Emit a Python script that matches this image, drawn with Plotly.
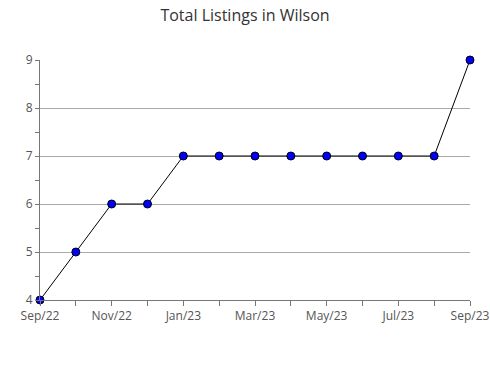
import plotly.graph_objects as go

months = ["Sep/22", "Oct/22", "Nov/22", "Dec/22", "Jan/23", "Feb/23", "Mar/23",
          "Apr/23", "May/23", "Jun/23", "Jul/23", "Aug/23", "Sep/23"]
listings = [4, 5, 6, 6, 7, 7, 7, 7, 7, 7, 7, 7, 9]
tick_labels = [m if i % 2 == 0 else "" for i, m in enumerate(months)]

fig = go.Figure()
fig.add_trace(go.Scatter(
    x=list(range(len(months))), y=listings, mode="lines+markers",
    line=dict(color="black", width=1),
    marker=dict(symbol="circle", size=8, color="#0000ff", line=dict(color="black", width=1)),
    cliponaxis=False, hoverinfo="skip",
))
fig.update_layout(
    width=490, height=380,
    margin=dict(l=40, r=20, t=60, b=80),
    paper_bgcolor="white", plot_bgcolor="white",
    font=dict(family="Open Sans", size=12, color="#555555"),
    title=dict(text="Total Listings in Wilson", x=0.5, xanchor="center", y=0.975, yanchor="top",
               font=dict(size=16, color="#333333")),
    showlegend=False,
    xaxis=dict(
        range=[0, len(months) - 1], tickmode="array", automargin=False,
        tickvals=list(range(len(months))), ticktext=tick_labels,
        showgrid=False, zeroline=False, showline=True, linecolor="#777777", linewidth=1,
        ticks="outside", ticklen=5, tickcolor="#777777",
    ),
    yaxis=dict(
        range=[4, 9], dtick=1, tick0=4, automargin=False,
        showgrid=True, gridcolor="#aaaaaa", gridwidth=1, zeroline=False,
        showline=True, linecolor="#777777", linewidth=1,
        ticks="outside", ticklen=4, tickcolor="#777777",
        minor=dict(dtick=0.5, ticks="outside", ticklen=4, tickcolor="#777777", showgrid=False),
    ),
)
fig.write_html("out.html")
